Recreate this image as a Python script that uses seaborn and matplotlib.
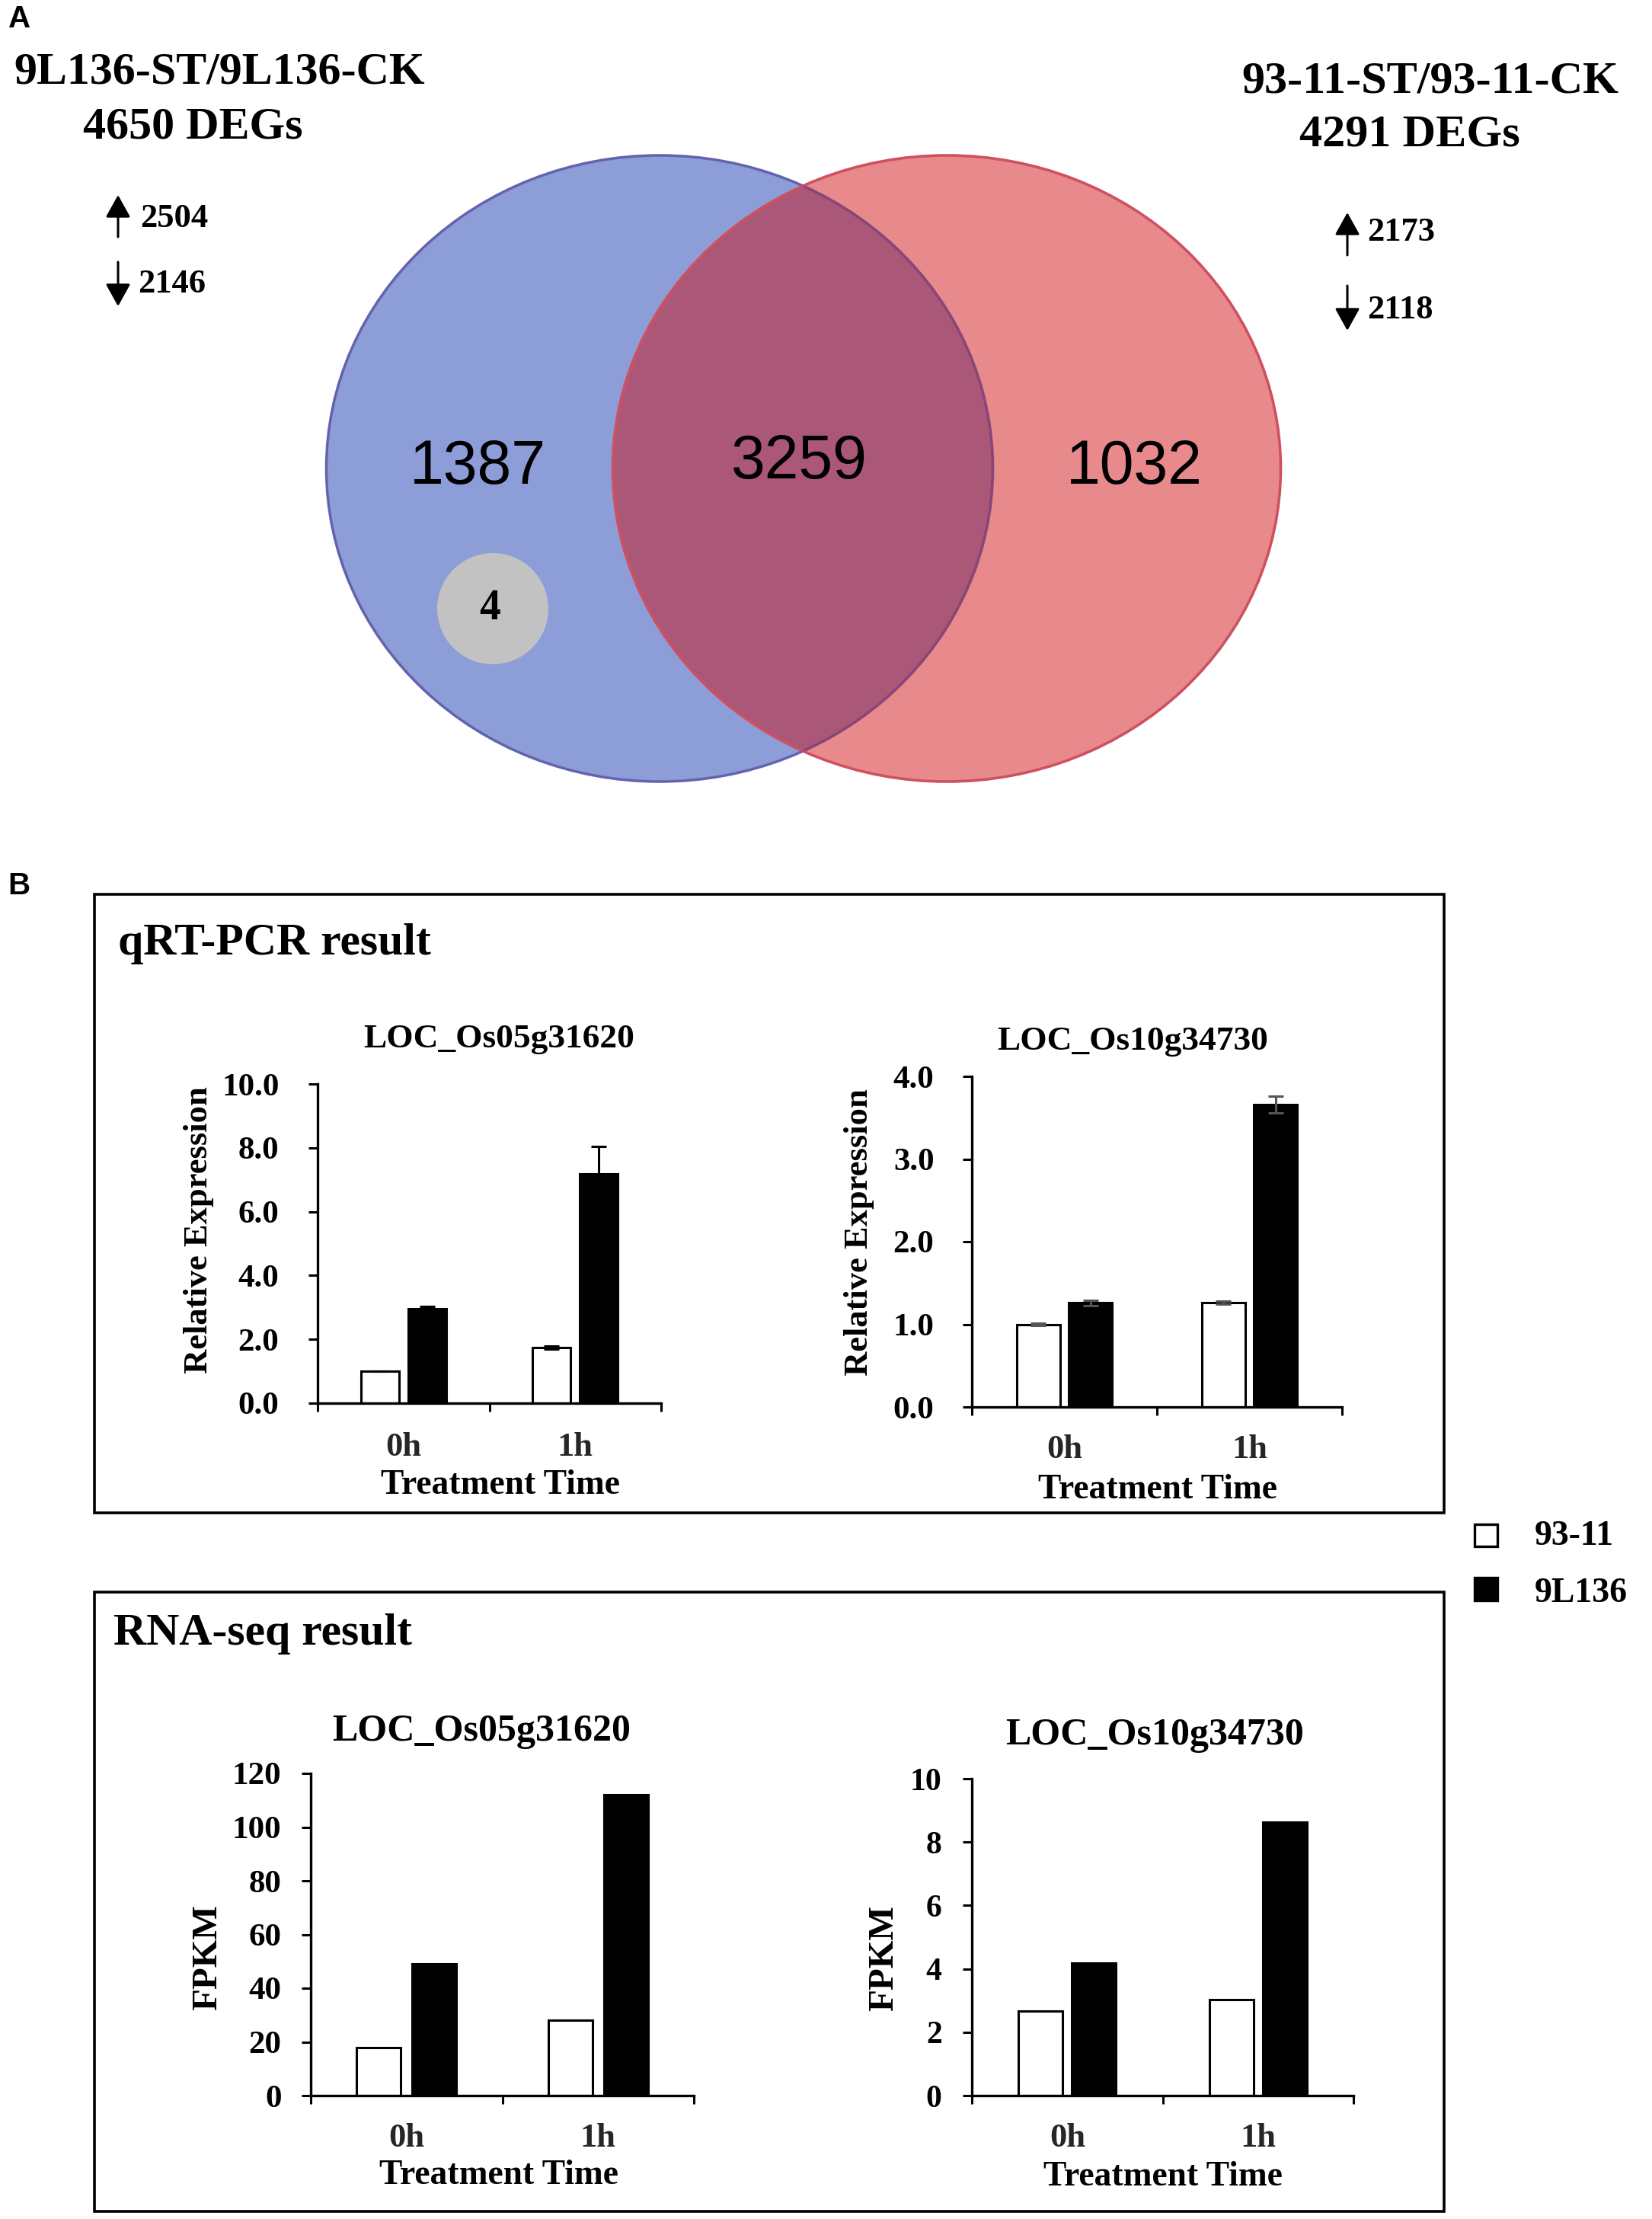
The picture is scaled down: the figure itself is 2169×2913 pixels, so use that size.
import matplotlib
matplotlib.use('Agg')
import matplotlib.pyplot as plt
from matplotlib.patches import Ellipse, Rectangle, FancyArrowPatch
import seaborn as sns
import pandas as pd

# Dados
tempos = ['0h', '1h']
linhagens = ['93-11', '9L136']

qpcr_05_9311 = [1.0, 1.75]
qpcr_05_9l136 = [2.95, 7.18]
qpcr_05_err_9311 = [0.0, 0.05]
qpcr_05_err_9l136 = [0.07, 0.86]

qpcr_10_9311 = [1.0, 1.26]
qpcr_10_9l136 = [1.26, 3.66]
qpcr_10_err_9311 = [0.01, 0.02]
qpcr_10_err_9l136 = [0.03, 0.10]

rna_05_9311 = [17.8, 28.0]
rna_05_9l136 = [49.1, 112.0]

rna_10_9311 = [2.68, 3.04]
rna_10_9l136 = [4.19, 8.64]

ticks_qpcr_05 = [0, 2, 4, 6, 8, 10]
ticks_qpcr_10 = [0, 1, 2, 3, 4]
ticks_rna_05 = [0, 20, 40, 60, 80, 100, 120]
ticks_rna_10 = [0, 2, 4, 6, 8, 10]

W, H = 2169, 2913
SERIF = 'Liberation Serif'
SANS = 'Liberation Sans'

sns.set_theme(style='ticks')
plt.rcParams['font.family'] = SERIF
plt.rcParams['font.weight'] = 'bold'
plt.rcParams['text.color'] = 'black'

fig = plt.figure(figsize=(W / 100, H / 100), dpi=100, facecolor='white')

# Eixo de fundo em pixels: venn, molduras e legenda
bg = fig.add_axes([0, 0, 1, 1])
bg.set_xlim(0, W)
bg.set_ylim(H, 0)
bg.axis('off')


def escreve(x, y, s, size, family=SERIF, weight='bold', ha='center'):
    bg.text(x, y, s, fontsize=size, family=family, weight=weight, ha=ha, va='center', color='black')


# Painel A
bg.add_patch(Ellipse((866, 615), 875, 822, fc='#8C9DD8', ec='#5B74C4', lw=2.6, zorder=1))
bg.add_patch(Ellipse((1243, 615), 877, 822, fc=(207 / 255, 11 / 255, 13 / 255, 0.48), ec='none', zorder=2))
bg.add_patch(Ellipse((1243, 615), 877, 822, fc='none', ec='#CF5060', lw=2.6, zorder=3))
bg.add_patch(Ellipse((866, 615), 875, 822, fc='none', ec='#7A4F8C', lw=1.6, zorder=3, alpha=0.6))
bg.add_patch(Ellipse((647, 799), 146, 146, fc='#C2C2C2', ec='none', zorder=3))

for x, y, s in [(627, 614, '1387'), (1049, 607, '3259'), (1489, 614, '1032')]:
    bg.text(x, y, s, fontsize=58, family=SANS, weight='normal', ha='center', va='center', color='black', zorder=4)
bg.text(643, 799, '4', fontsize=40, ha='center', va='center', color='black', zorder=4)

escreve(26, 25, 'A', 29, family=SANS)
escreve(25, 1163, 'B', 29, family=SANS)

escreve(288, 96, '9L136-ST/9L136-CK', 43.2)
escreve(253, 168, '4650 DEGs', 43.2)
escreve(1878, 107, '93-11-ST/93-11-CK', 43.4)
escreve(1851, 178, '4291 DEGs', 43.4)

setas = [(155, 311, 256), (155, 344, 402), (1769, 335, 279), (1769, 375, 434)]
for x, y0, y1 in setas:
    bg.add_patch(FancyArrowPatch((x, y0), (x, y1), arrowstyle='-|>,head_length=18,head_width=10',
                                 mutation_scale=1, lw=2.2, color='black', shrinkA=0, shrinkB=0))
escreve(184, 287, '2504', 32, ha='left')
escreve(181, 373, '2146', 32, ha='left')
escreve(1795, 305, '2173', 32, ha='left')
escreve(1795, 407, '2118', 32, ha='left')

# Molduras do painel B
bg.add_patch(Rectangle((124, 1174), 1772, 812, fc='none', ec='black', lw=2.6))
bg.add_patch(Rectangle((124, 2090), 1772, 813, fc='none', ec='black', lw=2.6))
escreve(155, 1239, 'qRT-PCR result', 43, ha='left')
escreve(149, 2145, 'RNA-seq result', 43, ha='left')

# Legenda
bg.add_patch(Rectangle((1936, 2001), 30, 29, fc='white', ec='black', lw=2.4))
bg.add_patch(Rectangle((1936, 2071), 30, 30, fc='black', ec='black', lw=2.4))
escreve(2015, 2017, '93-11', 33, ha='left')
escreve(2015, 2092, '9L136', 33, ha='left')


def grafico(valores_a, valores_b, yticks, fmt, ylabel, titulo, caixa, lay, erros=None, cor_erro='black'):
    # caixa = esquerda, topo, direita, base em pixels da figura
    x0, y0, x1, y1 = caixa
    ax = fig.add_axes([x0 / W, 1 - y1 / H, (x1 - x0) / W, (y1 - y0) / H], facecolor='none')
    df = pd.DataFrame({
        'tempo': tempos * 2,
        'linhagem': [linhagens[0]] * 2 + [linhagens[1]] * 2,
        'valor': valores_a + valores_b,
    })
    sns.barplot(data=df, x='tempo', y='valor', hue='linhagem', hue_order=linhagens,
                palette={'93-11': 'white', '9L136': 'black'}, edgecolor='black', linewidth=2.2,
                width=lay['width'], gap=lay['gap'], errorbar=None, legend=False, ax=ax)
    if erros:
        for barras, errs in zip(ax.containers, erros):
            xs = [b.get_x() + b.get_width() / 2 for b in barras]
            ys = [b.get_height() for b in barras]
            ax.errorbar(xs, ys, yerr=errs, fmt='none', ecolor=cor_erro, elinewidth=2.2,
                        capsize=7, capthick=2.2, zorder=5)
    ax.set_xlim(-0.5, 1.5)
    ax.set_ylim(yticks[0], yticks[-1])
    ax.set_yticks(yticks)
    ax.set_yticklabels([fmt % v for v in yticks])
    ax.set_xticks([0, 1])
    ax.set_xticks([-0.5, 0.5, 1.5], minor=True)
    sns.despine(ax=ax)
    for lado in ['left', 'bottom']:
        ax.spines[lado].set_linewidth(2.4)
        ax.spines[lado].set_color('black')
    ax.tick_params(axis='y', length=9, width=2.2, pad=lay['ypad'] * 0.72, labelsize=lay['tick'], colors='black')
    ax.tick_params(axis='x', which='major', length=0, pad=lay['xpad'] * 0.72, labelsize=32)
    ax.tick_params(axis='x', which='minor', length=8, width=2.2, color='black')

    largura, altura = x1 - x0, y1 - y0
    ax.set_xlabel('Treatment Time', fontsize=32.8, weight='bold', color='black', va='center')
    ax.xaxis.set_label_coords((lay['xl'][0] - x0) / largura, (y1 - lay['xl'][1]) / altura)
    ax.set_ylabel(ylabel, fontsize=lay['yl_size'], weight='bold', color='black', va='center')
    ax.yaxis.set_label_coords((lay['yl'][0] - x0) / largura, (y1 - lay['yl'][1]) / altura)
    ax.set_title(titulo, fontsize=lay['title_size'], weight='bold', color='black', va='center',
                 x=(lay['title'][0] - x0) / largura, y=(y1 - lay['title'][1]) / altura)
    return ax


grafico(qpcr_05_9311, qpcr_05_9l136, ticks_qpcr_05, '%.1f', 'Relative Expression', 'LOC_Os05g31620',
        (417, 1423, 868, 1842),
        dict(width=0.55, gap=0.19, ypad=38, xpad=38, tick=31, xl=(657, 1950), yl=(261, 1615), yl_size=32,
             title=(655, 1372), title_size=32.7),
        erros=[qpcr_05_err_9311, qpcr_05_err_9l136])

grafico(qpcr_10_9311, qpcr_10_9l136, ticks_qpcr_10, '%.1f', 'Relative Expression', 'LOC_Os10g34730',
        (1276, 1413, 1762, 1847),
        dict(width=0.56, gap=0.17, ypad=37, xpad=36, tick=31, xl=(1520, 1956), yl=(1128, 1618), yl_size=32,
             title=(1487, 1375), title_size=32.7),
        erros=[qpcr_10_err_9311, qpcr_10_err_9l136], cor_erro='#555555')

grafico(rna_05_9311, rna_05_9l136, ticks_rna_05, '%d', 'FPKM', 'LOC_Os05g31620',
        (408, 2328, 911, 2751),
        dict(width=0.58, gap=0.2, ypad=26, xpad=36, tick=31, xl=(655, 2856), yl=(273, 2570), yl_size=34,
             title=(632, 2281), title_size=36),)

grafico(rna_10_9311, rna_10_9l136, ticks_rna_10, '%d', 'FPKM', 'LOC_Os10g34730',
        (1276, 2335, 1777, 2751),
        dict(width=0.56, gap=0.17, ypad=27, xpad=36, tick=30, xl=(1527, 2858), yl=(1161, 2571), yl_size=34,
             title=(1516, 2286), title_size=36))

fig.savefig('out.png', dpi=100, facecolor='white')
